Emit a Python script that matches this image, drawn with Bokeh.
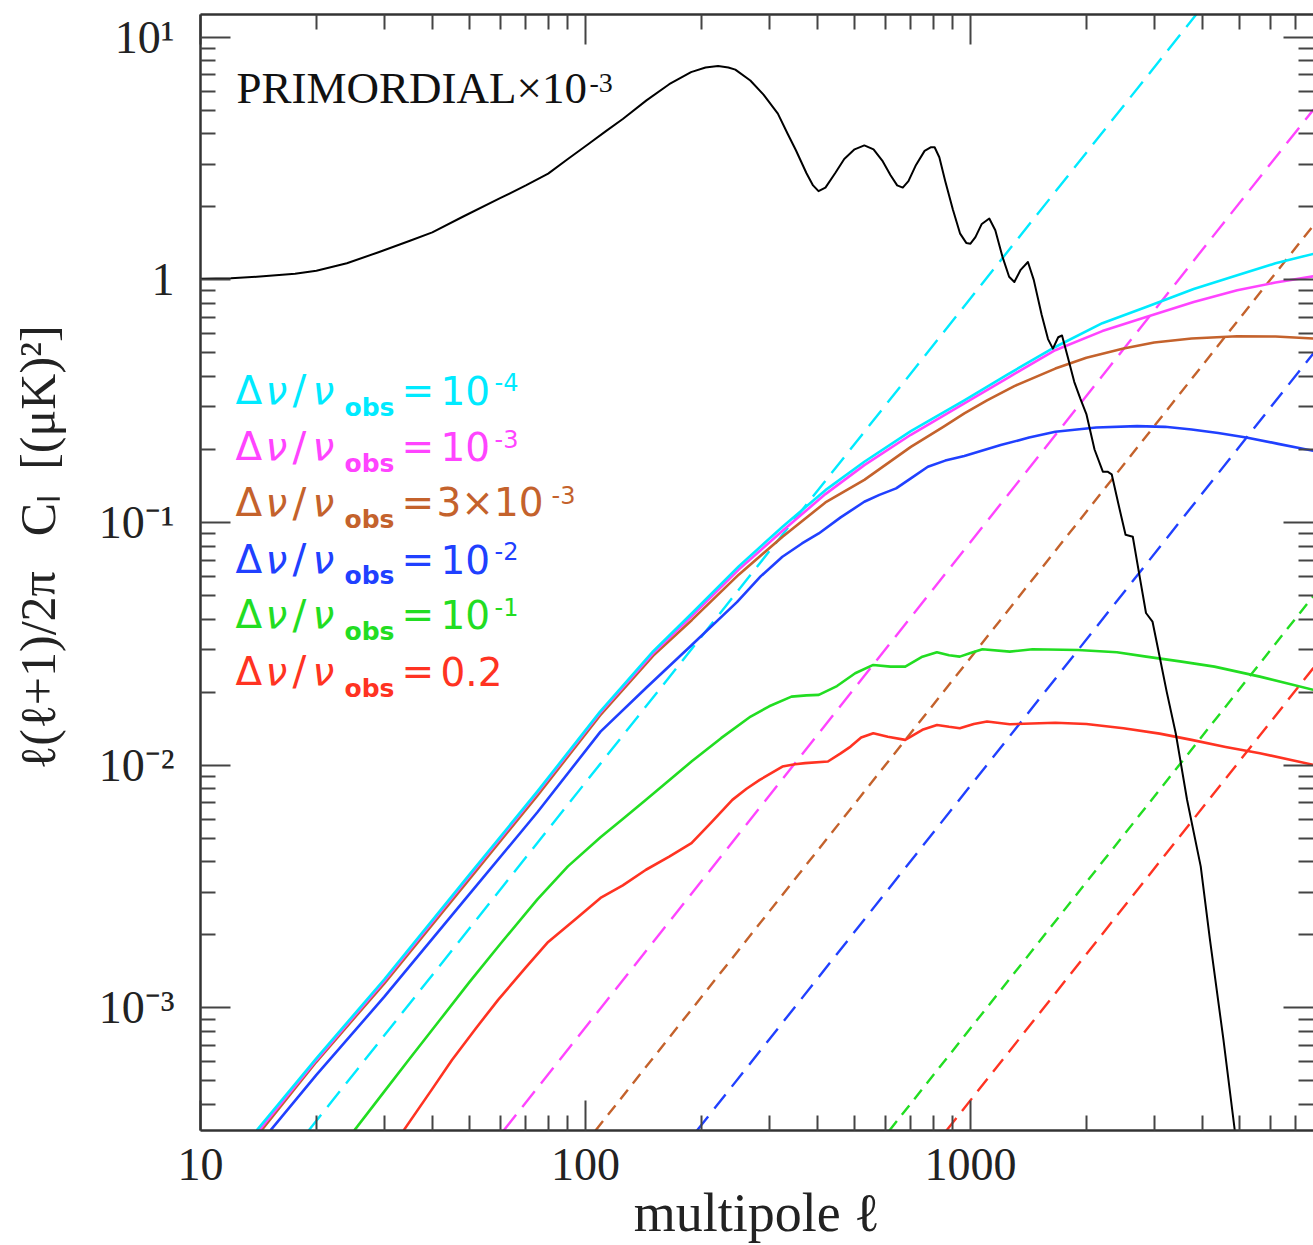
import math
from bokeh.plotting import figure
from bokeh.models import Range1d, FixedTicker, LogAxis
from bokeh.core.properties import value
from bokeh.embed import file_html
from bokeh.resources import INLINE

# ---------------- data ----------------
ell_prim = [10, 12, 14, 17.6, 20, 24, 29, 35, 40, 48, 60, 70, 80, 90, 102, 113, 125, 144, 165, 188, 205, 221, 235,
            245, 268, 290, 316, 335, 352, 375, 390, 403, 420, 445, 470, 500, 530, 560, 590, 620, 645, 667, 690, 720,
            760, 790, 807, 830, 860, 900, 940, 975, 1000, 1030, 1070, 1119, 1160, 1210, 1260, 1300, 1350, 1410, 1460,
            1530, 1590, 1637, 1690, 1729, 1790, 1860, 1928, 2000, 2100, 2207, 2270, 2327, 2420, 2528, 2640, 2750,
            2857, 2970, 3100, 3233, 3413, 3652, 3963, 4188, 4540, 4862]
cl_prim = [1.01, 1.015, 1.03, 1.06, 1.09, 1.17, 1.30, 1.45, 1.57, 1.82, 2.17, 2.45, 2.74, 3.15, 3.64, 4.1, 4.6, 5.49,
           6.4, 7.18, 7.5, 7.6, 7.5, 7.35, 6.63, 5.8, 4.84, 4.0, 3.42, 2.75, 2.45, 2.32, 2.40, 2.75, 3.15, 3.45, 3.58,
           3.45, 3.1, 2.7, 2.45, 2.40, 2.55, 2.95, 3.4, 3.52, 3.52, 3.2, 2.55, 1.95, 1.55, 1.42, 1.41, 1.5, 1.7, 1.79,
           1.6, 1.25, 1.03, 0.98, 1.1, 1.185, 1.0, 0.72, 0.57, 0.521, 0.58, 0.59, 0.48, 0.38, 0.325, 0.28, 0.2, 0.162,
           0.162, 0.158, 0.12, 0.089, 0.0874, 0.06, 0.0424, 0.0391, 0.028, 0.0201, 0.01355, 0.00721, 0.00383, 0.00191,
           7.4e-4, 3.1e-4]

ell_1e4 = [14.0, 20, 30, 50, 75, 109, 150, 189, 250, 325, 420, 530, 700, 964, 1250, 1660, 2200, 2860, 3800, 4930,
           6200, 7780]
cl_1e4 = [3.13e-4, 6.2e-4, 1.31e-3, 3.55e-3, 7.8e-3, 0.0166, 0.0295, 0.0423, 0.066, 0.0961, 0.136, 0.178, 0.238,
          0.319, 0.408, 0.529, 0.663, 0.7735, 0.917, 1.044, 1.17, 1.28]

ell_1e3 = [14.2, 20, 30, 50, 75, 109, 150, 189, 250, 325, 420, 530, 700, 964, 1250, 1660, 2200, 2860, 3800, 4930,
           6200, 7780]
cl_1e3 = [3.13e-4, 6.1e-4, 1.29e-3, 3.5e-3, 7.7e-3, 0.0164, 0.029, 0.0412, 0.064, 0.0925, 0.131, 0.1725, 0.23,
          0.3095, 0.395, 0.513, 0.615, 0.7036, 0.81, 0.906, 0.975, 1.035]

ell_3e3 = [14.4, 20, 30, 50, 75, 109, 150, 189, 250, 325, 420, 530, 700, 850, 964, 1104, 1300, 1661, 2000, 2497,
           3000, 3753, 4928, 6200, 7780]
cl_3e3 = [3.13e-4, 6.0e-4, 1.26e-3, 3.4e-3, 7.5e-3, 0.0160, 0.0283, 0.0397, 0.061, 0.0874, 0.121, 0.150, 0.205,
          0.248, 0.282, 0.319, 0.365, 0.431, 0.478, 0.5215, 0.552, 0.573, 0.586, 0.584, 0.573]

ell_1e2 = [15.2, 20, 30, 50, 75, 109.4, 143.6, 188.5, 247.4, 285, 324.7, 365, 403.6, 460, 529.9, 580, 641, 700, 775,
           860, 963.7, 1198, 1420, 1661, 2121, 2708, 3200, 3753, 4400, 5204, 6300, 7780]
cl_1e2 = [3.13e-4, 5.3e-4, 1.11e-3, 2.95e-3, 6.4e-3, 0.01376, 0.0208, 0.0312, 0.047, 0.060, 0.0723, 0.082, 0.0902,
          0.105, 0.1218, 0.130, 0.1383, 0.152, 0.1698, 0.180, 0.188, 0.2085, 0.224, 0.2365, 0.2465, 0.2496, 0.248,
          0.2418, 0.234, 0.2243, 0.211, 0.1975]

ell_1e1 = [25.1, 30, 35, 42, 50, 60, 75, 90, 109.4, 125, 143.6, 165, 188.5, 225, 268.5, 300, 342.8, 375, 403.6, 450,
           501.8, 559, 620, 677, 750, 818, 880, 938, 1000, 1074, 1265, 1449, 1902, 2400, 2860, 3500, 4301, 5646, 7780]
cl_1e1 = [3.13e-4, 4.52e-4, 6.2e-4, 8.98e-4, 1.28e-3, 1.83e-3, 2.8e-3, 3.83e-3, 5.05e-3, 6.0e-3, 7.2e-3, 8.68e-3,
          0.01036, 0.01293, 0.01587, 0.0175, 0.01918, 0.0194, 0.0195, 0.0212, 0.02394, 0.0259, 0.0255, 0.02549,
          0.0280, 0.0292, 0.0284, 0.02803, 0.0290, 0.03006, 0.02938, 0.03006, 0.02986, 0.0292, 0.02803, 0.0268,
          0.02549, 0.02318, 0.02044]

ell_02 = [33.7, 40, 45, 52, 59.3, 70, 80, 95, 109.4, 125, 143.6, 165, 188.5, 212, 240.7, 262, 283.5, 324.7, 350,
          371.9, 426.2, 460, 488.2, 520, 559.2, 610, 676.8, 750, 818.4, 880, 938, 1020, 1104, 1265, 1661, 2000, 2497,
          3100, 3753, 4600, 5646, 7780]
cl_02 = [3.13e-4, 4.64e-4, 6.1e-4, 8.27e-4, 1.08e-3, 1.47e-3, 1.87e-3, 2.35e-3, 2.84e-3, 3.2e-3, 3.71e-3, 4.2e-3,
         4.78e-3, 5.8e-3, 7.2e-3, 8.0e-3, 8.7e-3, 9.88e-3, 0.0101, 0.0102, 0.01036, 0.0112, 0.01194, 0.0130, 0.01355,
         0.0131, 0.01272, 0.0140, 0.01466, 0.0144, 0.01421, 0.0148, 0.01514, 0.01475, 0.01497, 0.0148, 0.01421,
         0.0135, 0.01272, 0.0119, 0.01121, 0.01004]

# noise curves (dashed), two points each
noise_ell_1e4 = [19.1, 3858]
noise_cl_1e4 = [3.126e-4, 12.4]
noise_ell_1e3 = [61.3, 7780]
noise_cl_1e3 = [3.126e-4, 5.03]
noise_ell_3e3 = [106.2, 7780]
noise_cl_3e3 = [3.126e-4, 1.678]
noise_ell_1e2 = [194.8, 7780]
noise_cl_1e2 = [3.126e-4, 0.4987]
noise_ell_1e1 = [615.8, 7780]
noise_cl_1e1 = [3.126e-4, 0.0499]
noise_ell_02 = [866.3, 7780]
noise_cl_02 = [3.126e-4, 0.0252]

legend_values = ["10", "10", "3×10", "10", "10", "0.2"]
legend_exponents = ["-4", "-3", "-3", "-2", "-1", ""]

x_major = [10, 100, 1000]
x_labels = ["10", "100", "1000"]
y_major = [1e-3, 1e-2, 1e-1, 1.0, 10.0]
y_labels = ["10⁻³", "10⁻²", "10⁻¹", "1", "10¹"]

# ---------------- styling ----------------
C_CYAN = "#00EAFF"
C_MAG = "#FF44FF"
C_BROWN = "#C4622C"
C_BLUE = "#2040FF"
C_GREEN = "#22DD22"
C_RED = "#FF3322"
colors = [C_CYAN, C_MAG, C_BROWN, C_BLUE, C_GREEN, C_RED]

X0, X1 = 10, 7780
Y0, Y1 = 3.126e-4, 12.4
FL, FR, FT, FB = 200, 1313, 14, 1131

x_minor = [m * 10 ** e for e in range(1, 4) for m in range(2, 10)]
y_minor = [m * 10.0 ** e for e in range(-4, 1) for m in range(2, 10)]

p = figure(width=1313, height=1245, x_axis_type="log", y_axis_type="log",
           x_range=Range1d(X0, X1), y_range=Range1d(Y0, Y1),
           output_backend="svg", toolbar_location=None,
           min_border_left=FL, min_border_right=0, min_border_top=FT, min_border_bottom=1245 - FB)
p.outline_line_color = None
p.xgrid.visible = False
p.ygrid.visible = False
p.background_fill_color = "white"
p.border_fill_color = "white"

bx = p.below[0]
ly = p.left[0]
top = LogAxis()
right = LogAxis()
p.add_layout(top, "above")
p.add_layout(right, "right")

xticker = FixedTicker(ticks=x_major, minor_ticks=x_minor)
yticker = FixedTicker(ticks=y_major, minor_ticks=y_minor)
bx.ticker = xticker
top.ticker = xticker
ly.ticker = yticker
right.ticker = yticker

for ax in [bx, ly, top, right]:
    ax.major_tick_in = 30
    ax.major_tick_out = 0
    ax.minor_tick_in = 15
    ax.minor_tick_out = 0
    ax.major_tick_line_width = 2
    ax.minor_tick_line_width = 2
    ax.major_tick_line_color = "#444444"
    ax.minor_tick_line_color = "#444444"
    ax.axis_line_width = 2.5
    ax.axis_line_color = "#333333"

for ax in [top, right]:
    ax.major_label_text_font_size = "1px"
    ax.major_label_text_alpha = 0
    ax.major_label_standoff = 0
right.axis_line_color = None

bx.major_label_overrides = dict(zip(x_major, x_labels))
bx.major_label_text_font = "Liberation Serif"
bx.major_label_text_font_size = "46px"
bx.major_label_text_color = "#222222"
bx.major_label_standoff = 18
bx.axis_label = "multipole ℓ"
bx.axis_label_text_font = "Liberation Serif"
bx.axis_label_text_font_size = "54px"
bx.axis_label_text_font_style = "normal"
bx.axis_label_text_color = "#222222"
bx.axis_label_standoff = 0

ly.major_label_overrides = dict(zip(y_major, y_labels))
ly.major_label_text_font = "Liberation Serif"
ly.major_label_text_font_size = "46px"
ly.major_label_text_color = "#222222"
ly.major_label_standoff = 26
ly.axis_label = "\u2003ℓ(ℓ+1)/2π\u2002\u2009Cₗ\u2002[(μK)²]"
ly.axis_label_text_font = "Liberation Serif"
ly.axis_label_text_font_size = "50px"
ly.axis_label_text_font_style = "normal"
ly.axis_label_text_color = "#222222"
ly.axis_label_standoff = 30

# ---------------- curves ----------------
dashes = ["20 10", "20 10", "12 8", "18 10", "12 8", "16 9"]
noise = [(noise_ell_1e4, noise_cl_1e4), (noise_ell_1e3, noise_cl_1e3), (noise_ell_3e3, noise_cl_3e3),
         (noise_ell_1e2, noise_cl_1e2), (noise_ell_1e1, noise_cl_1e1), (noise_ell_02, noise_cl_02)]
for (ne, nc), c, d in zip(noise, colors, dashes):
    p.line(ne, nc, line_color=c, line_width=2.4, line_dash=d)

signal = [(ell_1e2, cl_1e2), (ell_3e3, cl_3e3), (ell_1e3, cl_1e3), (ell_1e4, cl_1e4), (ell_1e1, cl_1e1),
          (ell_02, cl_02)]
sig_colors = [C_BLUE, C_BROWN, C_MAG, C_CYAN, C_GREEN, C_RED]
for (se, sc), c in zip(signal, sig_colors):
    p.line(se, sc, line_color=c, line_width=2.6, line_join="round")

p.line(ell_prim, cl_prim, line_color="black", line_width=2, line_join="round")


# ---------------- texts ----------------
def X(px):
    return 10 ** (math.log10(X0) + (px - FL) / (FR - FL) * (math.log10(X1) - math.log10(X0)))


def Y(py):
    return 10 ** (math.log10(Y1) - (py - FT) / (FB - FT) * (math.log10(Y1) - math.log10(Y0)))


p.text(x=[X(236)], y=[Y(88)], text=["PRIMORDIAL×10"], text_color="#111111",
       text_font=value("Liberation Serif"), text_font_size="45px", text_baseline="middle")
p.text(x=[X(589)], y=[Y(83)], text=["-3"], text_color="#111111",
       text_font=value("Liberation Serif"), text_font_size="28px", text_baseline="middle")

rows_mid = [390, 446.5, 502.5, 559, 615, 671.5]
n = len(rows_mid)
main_font = value("DejaVu Sans")


def piece(px_list, dy, texts, size, style="normal", font=main_font):
    p.text(x=[X(px) for px in px_list], y=[Y(b + dy) for b in rows_mid], text=texts,
           text_color=colors, text_font=font, text_font_size=size, text_font_style=style,
           text_baseline="middle", text_align="left")


piece([235] * n, 0, ["Δ"] * n, "39px")
piece([265] * n, 0, ["ν"] * n, "39px", "italic")
piece([292] * n, 0, ["/"] * n, "41px")
piece([312] * n, 0, ["ν"] * n, "39px", "italic")
piece([344] * n, 17, ["obs"] * n, "25px", "bold")
piece([401] * n, 0, ["="] * n, "39px")
piece([440, 440, 436, 440, 440, 440], 0, legend_values, "39px")
piece([494, 494, 551, 494, 494, 494], -8, legend_exponents, "24px")

open("out.html", "w").write(file_html(p, INLINE))
